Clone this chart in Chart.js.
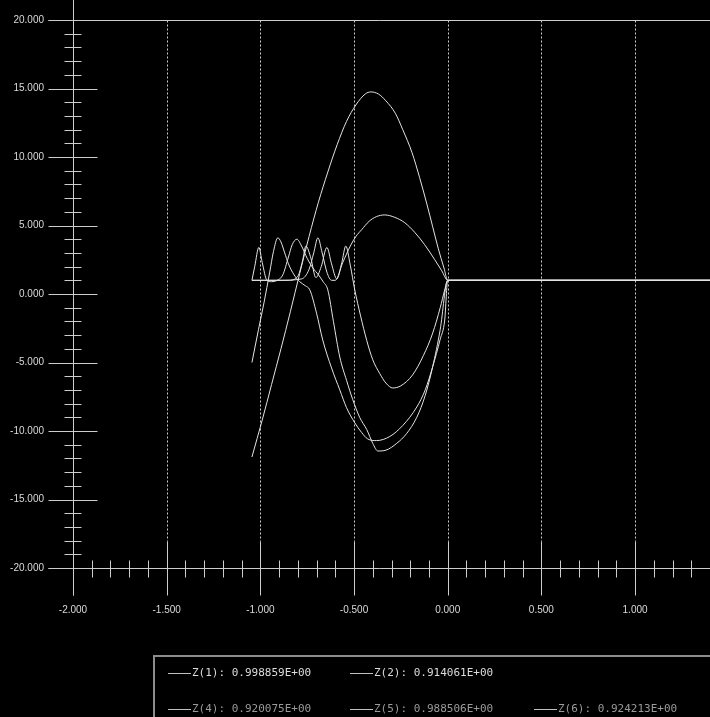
<!DOCTYPE html>
<html>
<head>
<meta charset="utf-8">
<script src="https://cdn.jsdelivr.net/npm/chart.js@4.4.1/dist/chart.umd.min.js"></script>
<style>
  html, body { margin: 0; padding: 0; background: #000; overflow: hidden; }
  #wrap { position: relative; width: 710px; height: 717px; background: #000; overflow: hidden; }
  #legend {
    position: absolute; left: 153px; top: 655px; width: 620px; height: 90px;
    border: 2px solid #8c8c8c; box-sizing: border-box;
    font-family: "DejaVu Sans Mono", monospace; font-size: 11px;
  }
  .item { position: absolute; white-space: pre; line-height: 14px; color: #dcdcdc; }
  .item.dim { color: #9a9a9a; }
  .item i { display: inline-block; width: 23px; height: 1px; background: #c0c0c0; vertical-align: middle; margin-right: 1px; }
</style>
</head>
<body>
<div id="wrap">
  <canvas id="c" width="710" height="717"></canvas>
  <div id="legend"></div>
</div>
<script>
// Axis ranges and tick labels
const xMin = -2.0, xMax = 1.4;
const yMin = -20.0, yMax = 20.0;
const xTickValues = [-2.0, -1.5, -1.0, -0.5, 0.0, 0.5, 1.0];
const yTickValues = [-20, -15, -10, -5, 0, 5, 10, 15, 20];

// Z(1)
const z1x = [-1.045, -0.99, -0.94, -0.89, -0.84, -0.79, -0.74, -0.69, -0.64, -0.59, -0.54, -0.49, -0.44, -0.41, -0.37, -0.33, -0.28, -0.24, -0.19, -0.15, -0.11, -0.08, -0.05, -0.02, 0.0, 0.5, 1.0, 1.4];
const z1y = [-11.9, -9.2, -6.6, -4.0, -1.3, 1.5, 4.2, 6.7, 8.9, 10.9, 12.6, 13.8, 14.6, 14.75, 14.6, 14.1, 13.2, 12.0, 10.3, 8.5, 6.5, 4.9, 3.3, 1.9, 1.0, 1.0, 1.0, 1.0];

// Z(2)
const z2x = [-1.045, -1.01, -0.98, -0.95, -0.93, -0.907, -0.89, -0.87, -0.85, -0.82, -0.79, -0.76, -0.736, -0.70, -0.667, -0.62, -0.576, -0.54, -0.496, -0.46, -0.427, -0.38, -0.309, -0.24, -0.165, -0.12, -0.08, -0.04, -0.016, 0.0, 0.5, 1.0, 1.4];
const z2y = [-5.0, -2.6, -0.6, 1.6, 3.1, 4.1, 3.8, 3.0, 2.2, 1.4, 0.9, 0.6, 0.3, -1.4, -3.36, -5.4, -7.0, -8.3, -9.4, -10.1, -10.58, -10.7, -10.4, -9.6, -8.25, -7.0, -5.3, -3.3, -1.9, 1.0, 1.0, 1.0, 1.0];

// Z(4)
const z4x = [-1.045, -1.03, -1.008, -0.99, -0.965, -0.94, -0.91, -0.88, -0.85, -0.83, -0.805, -0.78, -0.75, -0.72, -0.69, -0.665, -0.64, -0.61, -0.576, -0.54, -0.507, -0.47, -0.432, -0.40, -0.373, -0.33, -0.272, -0.22, -0.165, -0.12, -0.08, -0.04, 0.0, 0.5, 1.0, 1.4];
const z4y = [1.0, 2.0, 3.4, 2.3, 1.0, 0.9, 1.0, 1.4, 2.7, 3.6, 4.0, 3.5, 2.6, 1.9, 1.4, 0.9, 0.3, -2.0, -4.6, -6.3, -7.7, -9.0, -9.9, -10.9, -11.46, -11.4, -10.9, -10.2, -9.0, -7.4, -5.3, -2.6, 1.0, 1.0, 1.0, 1.0];

// Z(5)
const z5x = [-1.045, -0.95, -0.85, -0.80, -0.775, -0.757, -0.73, -0.704, -0.675, -0.645, -0.62, -0.592, -0.565, -0.544, -0.52, -0.496, -0.465, -0.432, -0.40, -0.363, -0.33, -0.293, -0.25, -0.187, -0.13, -0.08, -0.04, -0.016, 0.0, 0.5, 1.0, 1.4];
const z5y = [1.0, 1.0, 1.0, 1.3, 2.4, 3.5, 2.6, 1.2, 2.0, 3.4, 2.2, 1.1, 2.3, 3.5, 2.1, 0.3, -1.6, -3.4, -4.8, -5.8, -6.5, -6.86, -6.7, -5.9, -4.5, -2.85, -1.0, 0.3, 1.0, 1.0, 1.0, 1.0];

// Z(6)
const z6x = [-1.045, -0.90, -0.78, -0.74, -0.715, -0.693, -0.67, -0.645, -0.62, -0.60, -0.56, -0.52, -0.49, -0.459, -0.42, -0.38, -0.336, -0.283, -0.229, -0.176, -0.123, -0.069, -0.032, 0.0, 0.5, 1.0, 1.4];
const z6y = [1.0, 1.0, 1.1, 1.8, 3.0, 4.1, 3.0, 1.6, 1.0, 1.0, 2.3, 3.5, 4.2, 4.7, 5.3, 5.65, 5.77, 5.6, 5.2, 4.5, 3.6, 2.5, 1.7, 1.0, 1.0, 1.0, 1.0];

// Legend entries (row, column)
const legendNames  = ["Z(1)", "Z(2)", "Z(4)", "Z(5)", "Z(6)"];
const legendValues = ["0.998859E+00", "0.914061E+00", "0.920075E+00", "0.988506E+00", "0.924213E+00"];
const legendSlots  = [[0, 0], [0, 1], [1, 0], [1, 1], [1, 2]];

const toPoints = (xs, ys) => xs.map((v, i) => ({ x: v, y: ys[i] }));
const seriesX = [z1x, z2x, z4x, z5x, z6x];
const seriesY = [z1y, z2y, z4y, z5y, z6y];

const lineColor = '#e4e4e4';
const axisColor = '#cdcdcd';

const datasets = seriesX.map((xs, i) => ({
  label: legendNames[i],
  data: toPoints(xs, seriesY[i]),
  showLine: true,
  borderColor: lineColor,
  borderWidth: 1,
  pointRadius: 0,
  cubicInterpolationMode: 'monotone',
  fill: false
}));

// Axis lines, tick marks and dotted verticals
const axisDecor = {
  id: 'axisDecor',
  beforeDatasetsDraw(chart) {
    const { ctx, scales: { x, y } } = chart;
    const W = chart.width;
    const ax = Math.round(x.getPixelForValue(xMin)) + 0.5;
    const ayBottom = Math.round(y.getPixelForValue(yMin)) + 0.5;
    const ayTop = Math.round(y.getPixelForValue(yMax)) + 0.5;
    ctx.save();
    ctx.strokeStyle = axisColor;
    ctx.lineWidth = 1;

    const line = (x1, y1, x2, y2) => { ctx.beginPath(); ctx.moveTo(x1, y1); ctx.lineTo(x2, y2); ctx.stroke(); };

    // vertical axis
    line(ax, 0, ax, ayBottom + 27);
    // top and bottom frame lines
    line(ax - 25, ayTop, W, ayTop);
    line(ax - 25, ayBottom, W, ayBottom);

    // y ticks
    for (let v = yMin; v <= yMax; v += 1) {
      const py = Math.round(y.getPixelForValue(v)) + 0.5;
      if (v % 5 === 0) line(ax - 25, py, ax + 24, py);
      else line(ax - 9, py, ax + 8, py);
    }
    // x ticks
    for (let k = Math.round(xMin * 10); k <= Math.round(xMax * 10); k++) {
      const v = k / 10;
      const px = Math.round(x.getPixelForValue(v)) + 0.5;
      if (k % 5 === 0) line(px, ayBottom - 27, px, ayBottom + 27);
      else line(px, ayBottom - 8, px, ayBottom + 9);
    }
    // dotted verticals at major x ticks
    ctx.setLineDash([2, 2]);
    xTickValues.forEach(v => {
      if (v === xMin) return;
      const px = Math.round(x.getPixelForValue(v)) + 0.5;
      line(px, ayTop, px, ayBottom - 27);
    });
    ctx.restore();
  }
};

new Chart(document.getElementById('c'), {
  type: 'scatter',
  data: { datasets },
  plugins: [axisDecor],
  options: {
    responsive: false,
    animation: false,
    events: [],
    layout: { padding: { top: 20, right: 0, left: 0, bottom: 0 } },
    plugins: { legend: { display: false }, tooltip: { enabled: false } },
    scales: {
      x: {
        type: 'linear', min: xMin, max: xMax,
        grid: { display: false, drawTicks: false },
        border: { display: false },
        afterFit: s => { s.height = 149; s.paddingLeft = 0; s.paddingRight = 0; },
        afterBuildTicks: s => { s.ticks = xTickValues.map(v => ({ value: v })); },
        ticks: {
          padding: 36, color: '#dadada', autoSkip: false, maxRotation: 0,
          font: { family: 'Liberation Sans', size: 10 },
          callback: v => v.toFixed(3)
        }
      },
      y: {
        type: 'linear', min: yMin, max: yMax,
        grid: { display: false, drawTicks: false },
        border: { display: false },
        afterFit: s => { s.width = 73; s.paddingTop = 0; s.paddingBottom = 0; },
        afterBuildTicks: s => { s.ticks = yTickValues.map(v => ({ value: v })); },
        ticks: {
          padding: 29, color: '#dadada', autoSkip: false,
          font: { family: 'Liberation Sans', size: 10 },
          callback: v => v.toFixed(3)
        }
      }
    }
  }
});

// Legend box
const legendEl = document.getElementById('legend');
const colLeft = [13, 195, 379];
const rowTop = [9, 45];
legendNames.forEach((name, i) => {
  const [r, c] = legendSlots[i];
  const d = document.createElement('div');
  d.className = 'item' + (r === 1 ? ' dim' : '');
  d.style.left = colLeft[c] + 'px';
  d.style.top = rowTop[r] + 'px';
  const mark = document.createElement('i');
  d.appendChild(mark);
  d.appendChild(document.createTextNode(name + ': ' + legendValues[i]));
  legendEl.appendChild(d);
});
</script>
</body>
</html>
